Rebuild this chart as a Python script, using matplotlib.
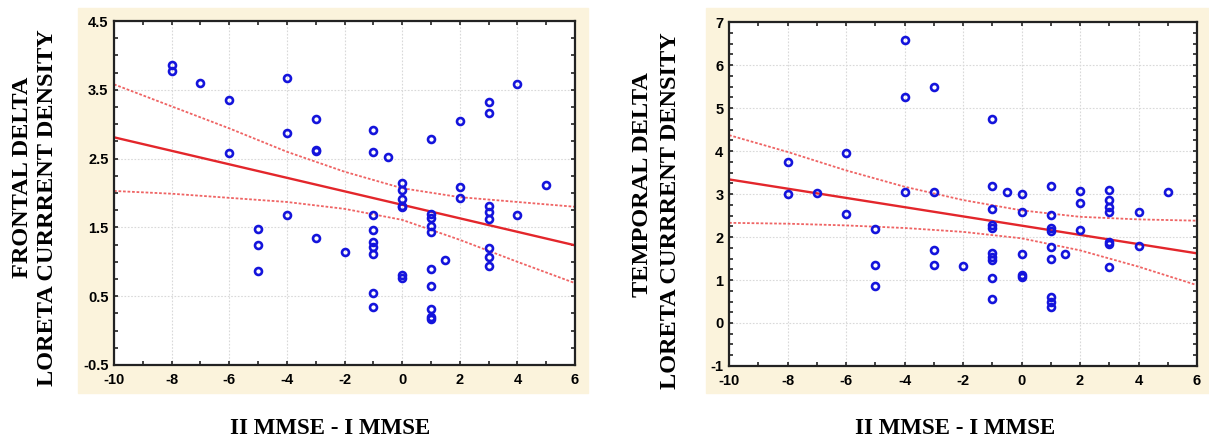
import numpy as np
import matplotlib.pyplot as plt
from matplotlib.patches import Rectangle
from matplotlib.ticker import MultipleLocator

plt.rcParams['axes.unicode_minus'] = False

# frontal delta vs MMSE change
front_x = [-8, -8, -7, -6, -6, -5, -5, -5, -4, -4, -4, -3, -3, -3, -3, -2,
           -1, -1, -1, -1, -1, -1, -1, -1, -1, -0.5,
           0, 0, 0, 0, 0, 0, 0, 1, 1, 1, 1, 1, 1, 1, 1, 1, 1, 1.5,
           2, 2, 2, 3, 3, 3, 3, 3, 3, 3, 3, 4, 4, 5]
front_y = [3.86, 3.77, 3.60, 3.35, 2.58, 1.47, 1.25, 0.86, 3.67, 2.87, 1.68,
           3.07, 2.62, 2.61, 1.35, 1.14,
           2.91, 2.59, 1.68, 1.46, 1.29, 1.21, 1.11, 0.55, 0.35, 2.52,
           2.15, 2.04, 1.91, 1.81, 1.79, 0.81, 0.77,
           2.79, 1.70, 1.63, 1.52, 1.43, 0.90, 0.65, 0.32, 0.20, 0.17, 1.03,
           3.05, 2.09, 1.93, 3.33, 3.16, 1.81, 1.72, 1.62, 1.20, 1.07, 0.94,
           3.58, 1.68, 2.12]

# temporal delta vs MMSE change
temp_x = [-8, -8, -7, -6, -6, -5, -5, -5, -4, -4, -4, -3, -3, -3, -3, -2,
          -1, -1, -1, -1, -1, -1, -1, -1, -1, -1, -0.5,
          0, 0, 0, 0, 0, 1, 1, 1, 1, 1, 1, 1, 1, 1, 1.5,
          2, 2, 2, 3, 3, 3, 3, 3, 3, 3, 4, 4, 5]
temp_y = [3.75, 3.00, 3.02, 3.96, 2.54, 2.19, 1.35, 0.87, 6.58, 5.26, 3.05,
          5.50, 3.05, 1.70, 1.36, 1.32,
          4.75, 3.19, 2.66, 2.28, 2.20, 1.62, 1.54, 1.46, 1.04, 0.56, 3.05,
          3.01, 2.59, 1.61, 1.11, 1.07,
          3.19, 2.52, 2.20, 2.14, 1.77, 1.48, 0.61, 0.49, 0.38, 1.60,
          3.07, 2.79, 2.16, 3.09, 2.87, 2.69, 2.58, 1.89, 1.83, 1.31,
          2.59, 1.79, 3.05]

# regression line (ends) and 95% bands
fit_x = [-10, 6]
front_fit = [2.81, 1.24]
temp_fit = [3.34, 1.62]
band_x = [-10, -8, -6, -4, -2, 0, 2, 4, 6]
front_upper = [3.58, 3.26, 2.94, 2.60, 2.31, 2.07, 1.94, 1.87, 1.80]
front_lower = [2.03, 1.99, 1.93, 1.87, 1.77, 1.61, 1.32, 1.00, 0.69]
temp_upper = [4.37, 3.98, 3.55, 3.17, 2.86, 2.62, 2.47, 2.41, 2.38]
temp_lower = [2.33, 2.31, 2.27, 2.21, 2.12, 1.97, 1.69, 1.31, 0.88]

x_ticks = [-10, -8, -6, -4, -2, 0, 2, 4, 6]
front_ticks = [-0.5, 0.5, 1.5, 2.5, 3.5, 4.5]
temp_ticks = [-1, 0, 1, 2, 3, 4, 5, 6, 7]

fig = plt.figure(figsize=(12.09, 4.37), dpi=100)
beige = '#fbf3dc'
fig.patches.append(Rectangle((0.0645, 0.10), 0.4218, 0.881, transform=fig.transFigure,
                             color=beige, zorder=-1))
fig.patches.append(Rectangle((0.584, 0.10), 0.416, 0.881, transform=fig.transFigure,
                             color=beige, zorder=-1))

ax1 = fig.add_axes([0.0943, 0.1648, 0.3813, 0.787])
ax2 = fig.add_axes([0.6030, 0.1625, 0.3871, 0.787])


def draw_panel(ax, x, y, fit, upper, lower, yticks):
    ax.set_facecolor('white')
    ax.grid(True, color='#d9d9d9', linestyle=(0, (1.5, 1.5)), linewidth=0.8)
    ax.set_axisbelow(True)
    ax.plot(band_x, upper, color='#ef6464', linestyle=(0, (1.5, 1)), linewidth=1.3)
    ax.plot(band_x, lower, color='#ef6464', linestyle=(0, (1.5, 1)), linewidth=1.3)
    ax.plot(fit_x, fit, color='#e3262b', linewidth=1.7)
    ax.plot(x, y, 'o', markerfacecolor='none', markeredgecolor='#1414dc',
            markersize=5, markeredgewidth=1.9, zorder=5)
    ax.set_xlim(-10, 6)
    ax.set_ylim(yticks[0], yticks[-1])
    ax.set_xticks(x_ticks)
    ax.set_yticks(yticks)
    ax.xaxis.set_minor_locator(MultipleLocator(1))
    ax.yaxis.set_minor_locator(MultipleLocator(0.25))
    ax.tick_params(which='both', direction='in', top=True, right=True,
                   length=3, width=1.2, color='#222222')
    ax.tick_params(axis='x', pad=6)
    ax.tick_params(axis='y', pad=4)
    for lab in ax.get_xticklabels() + ax.get_yticklabels():
        lab.set_fontfamily('Liberation Sans')
        lab.set_fontweight('bold')
        lab.set_fontsize(10.5)
    for sp in ax.spines.values():
        sp.set_linewidth(1.6)
        sp.set_color('#222222')


draw_panel(ax1, front_x, front_y, front_fit, front_upper, front_lower, front_ticks)
draw_panel(ax2, temp_x, temp_y, temp_fit, temp_upper, temp_lower, temp_ticks)

lab_font = dict(family='Liberation Serif', weight='bold', fontsize=16.5)
ylab_font = dict(family='Liberation Serif', weight='bold', fontsize=17.5)
fig.text(330 / 1209, 1 - 428 / 437, 'II MMSE - I MMSE', ha='center', va='center', **lab_font)
fig.text(955 / 1209, 1 - 428 / 437, 'II MMSE - I MMSE', ha='center', va='center', **lab_font)
fig.text(22 / 1209, 1 - 177 / 437, 'FRONTAL DELTA', rotation=90, ha='center', va='center', **ylab_font)
fig.text(48 / 1209, 1 - 208 / 437, 'LORETA CURRRENT DENSITY', rotation=90, ha='center', va='center', **ylab_font)
fig.text(642 / 1209, 1 - 185 / 437, 'TEMPORAL DELTA', rotation=90, ha='center', va='center', **ylab_font)
fig.text(670 / 1209, 1 - 211 / 437, 'LORETA CURRRENT DENSITY', rotation=90, ha='center', va='center', **ylab_font)

fig.savefig('out.png', dpi=100)
plt.close()
